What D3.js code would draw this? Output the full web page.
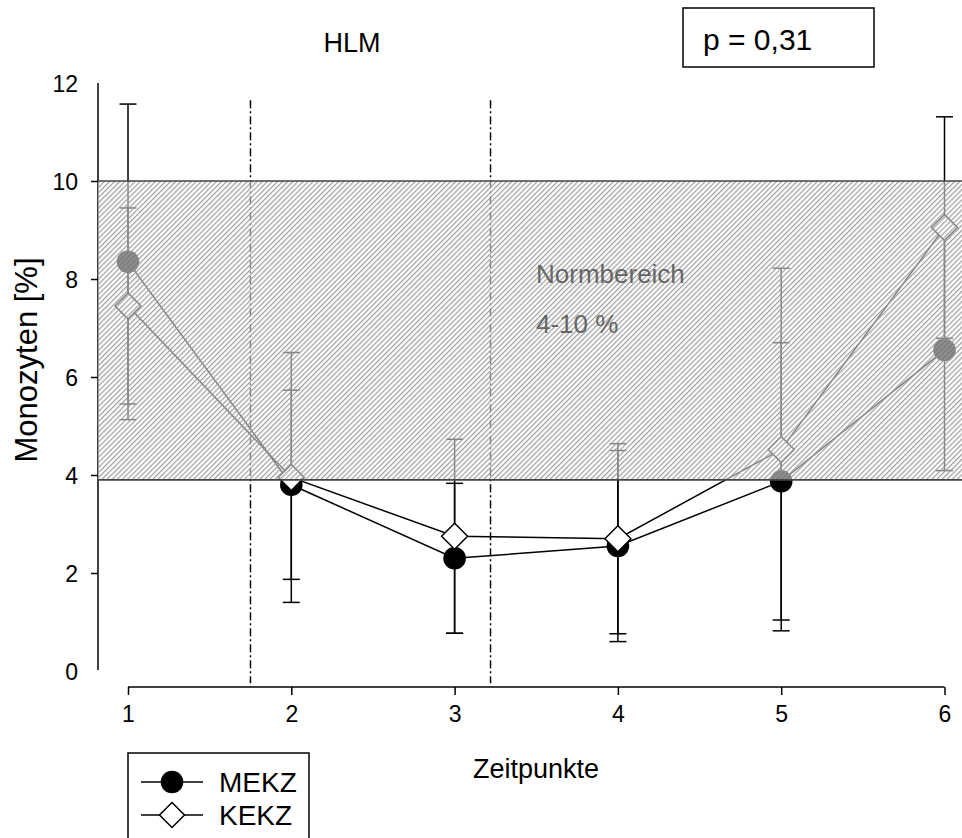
<!DOCTYPE html>
<html>
<head>
<meta charset="utf-8">
<script src="https://cdn.jsdelivr.net/npm/d3@7/dist/d3.min.js"></script>
<style>
  html, body { margin: 0; padding: 0; background: #fff; }
  svg { display: block; font-family: "Liberation Sans", Arial, sans-serif; }
</style>
</head>
<body>
<svg id="chart" width="962" height="838"></svg>
<script>
// Time points and monocyte percentages per group
const timepoints = [1, 2, 3, 4, 5, 6];
const mekzMean = [8.35, 3.80, 2.30, 2.55, 3.87, 6.55];
const mekzErr  = [3.22, 1.93, 1.53, 1.95, 2.83, 2.46];
const kekzMean = [7.45, 3.95, 2.75, 2.70, 4.52, 9.05];
const kekzErr  = [2.00, 2.55, 1.98, 1.94, 3.70, 2.26];
const yTicks = [0, 2, 4, 6, 8, 10, 12];
const normRange = [3.9, 10];
const phaseBreaks = [1.75, 3.22];
const seriesNames = ["MEKZ", "KEKZ"];

const FONT = "Liberation Sans, Arial, sans-serif";
const svg = d3.select("#chart");
const x = d3.scaleLinear().domain([1, 6]).range([128, 944.5]);
const y = d3.scaleLinear().domain([0, 12]).range([671, 83]);

// Hatch pattern for the normal range band
const defs = svg.append("defs");
const pat = defs.append("pattern")
  .attr("id", "hatch")
  .attr("patternUnits", "userSpaceOnUse")
  .attr("width", 3.6).attr("height", 3.6)
  .attr("patternTransform", "rotate(45)");
pat.append("rect").attr("width", 3.6).attr("height", 3.6).attr("fill", "rgba(255,255,255,0.5)");
pat.append("line").attr("x1", 0.6).attr("y1", 0).attr("x2", 0.6).attr("y2", 3.6)
  .attr("stroke", "#969696").attr("stroke-width", 1.1);

// Axes
const yAxis = d3.axisLeft(y).tickValues(yTicks).tickSize(7).tickSizeOuter(0).tickPadding(13);
const gy = svg.append("g").attr("transform", "translate(98,0)").call(yAxis);
gy.select(".domain").attr("stroke", "#000").attr("stroke-width", 1.5).attr("d", `M0,${y(12)}V${y(0) - 1}`);
gy.selectAll(".tick line").attr("stroke", "#000").attr("stroke-width", 1.5)
  .filter(d => d === 0 || d === 12).remove();
gy.selectAll(".tick text").attr("font-size", 23).attr("fill", "#000")
  .attr("font-family", FONT).attr("dy", "0.36em");

const xAxis = d3.axisBottom(x).tickValues(timepoints).tickFormat(d3.format("d"))
  .tickSize(8).tickSizeOuter(0).tickPadding(11);
const gx = svg.append("g").attr("transform", "translate(0,687)").call(xAxis);
gx.select(".domain").attr("stroke", "#000").attr("stroke-width", 1.5).attr("d", `M${x(1)},0H${x(6)}`);
gx.selectAll(".tick line").attr("stroke", "#000").attr("stroke-width", 1.5);
gx.selectAll(".tick text").attr("font-size", 23).attr("fill", "#000")
  .attr("font-family", FONT);

// Phase separators
svg.selectAll(".phase").data(phaseBreaks).enter().append("line")
  .attr("x1", d => x(d)).attr("x2", d => x(d))
  .attr("y1", y(11.65)).attr("y2", y(-0.25))
  .attr("stroke", "#000").attr("stroke-width", 1.5)
  .attr("stroke-dasharray", "8,3,2,3");

// Data series
const series = [
  { name: seriesNames[0], mean: mekzMean, err: mekzErr, shape: "circle" },
  { name: seriesNames[1], mean: kekzMean, err: kekzErr, shape: "diamond" }
];
const line = d3.line().x((d, i) => x(timepoints[i])).y(d => y(d));
const capW = 8.5;

series.forEach(s => {
  const g = svg.append("g");
  s.mean.forEach((m, i) => {
    const cx = x(timepoints[i]);
    const lo = y(m - s.err[i]), hi = y(m + s.err[i]);
    g.append("line").attr("x1", cx).attr("x2", cx).attr("y1", hi).attr("y2", lo)
      .attr("stroke", "#000").attr("stroke-width", 1.5);
    [hi, lo].forEach(v => g.append("line").attr("x1", cx - capW).attr("x2", cx + capW)
      .attr("y1", v).attr("y2", v).attr("stroke", "#000").attr("stroke-width", 1.5));
  });
});

series.forEach(s => {
  const g = svg.append("g");
  g.append("path").datum(s.mean).attr("d", line)
    .attr("fill", "none").attr("stroke", "#000").attr("stroke-width", 1.5);
  s.mean.forEach((m, i) => {
    const cx = x(timepoints[i]), cy = y(m);
    if (s.shape === "circle") {
      g.append("circle").attr("cx", cx).attr("cy", cy).attr("r", 11.3).attr("fill", "#000");
    } else {
      const r = 13;
      g.append("path").attr("d", `M${cx},${cy - r}L${cx + r},${cy}L${cx},${cy + r}L${cx - r},${cy}Z`)
        .attr("fill", "#fff").attr("stroke", "#000").attr("stroke-width", 1.5);
    }
  });
});

// Normal range band drawn over the data
const bandTop = y(normRange[1]), bandBot = y(normRange[0]);
svg.append("rect").attr("x", 98).attr("y", bandTop).attr("width", 962 - 98).attr("height", bandBot - bandTop)
  .attr("fill", "url(#hatch)");
[bandTop, bandBot].forEach(v => svg.append("line").attr("x1", 98).attr("x2", 962)
  .attr("y1", v).attr("y2", v).attr("stroke", "#444").attr("stroke-width", 1.6));

svg.append("text").attr("x", 536).attr("y", 283).attr("font-size", 26).attr("fill", "#666")
  .attr("font-family", FONT).text("Normbereich");
svg.append("text").attr("x", 536).attr("y", 333).attr("font-size", 26).attr("fill", "#666")
  .attr("font-family", FONT).text("4-10 %");

// Titles and labels
svg.append("text").attr("x", 352).attr("y", 52).attr("text-anchor", "middle")
  .attr("font-size", 27).attr("font-family", FONT).text("HLM");
svg.append("rect").attr("x", 683).attr("y", 8).attr("width", 191).attr("height", 59)
  .attr("fill", "#fff").attr("stroke", "#000").attr("stroke-width", 1.5);
svg.append("text").attr("x", 703).attr("y", 50).attr("font-size", 30)
  .attr("font-family", FONT).text("p = 0,31");

svg.append("text").attr("x", 536).attr("y", 778).attr("text-anchor", "middle")
  .attr("font-size", 27).attr("font-family", FONT).text("Zeitpunkte");
svg.append("text").attr("transform", "translate(37,360) rotate(-90)").attr("text-anchor", "middle")
  .attr("font-size", 31).attr("font-family", FONT).text("Monozyten [%]");

// Legend
const lg = svg.append("g");
lg.append("rect").attr("x", 128).attr("y", 753).attr("width", 181).attr("height", 100)
  .attr("fill", "#fff").attr("stroke", "#000").attr("stroke-width", 1.5);
series.forEach((s, i) => {
  const ly = 782 + i * 33;
  lg.append("line").attr("x1", 141).attr("x2", 203).attr("y1", ly).attr("y2", ly)
    .attr("stroke", "#000").attr("stroke-width", 1.5);
  if (s.shape === "circle") {
    lg.append("circle").attr("cx", 172).attr("cy", ly).attr("r", 11.3).attr("fill", "#000");
  } else {
    const r = 12.5;
    lg.append("path").attr("d", `M172,${ly - r}L${172 + r},${ly}L172,${ly + r}L${172 - r},${ly}Z`)
      .attr("fill", "#fff").attr("stroke", "#000").attr("stroke-width", 1.5);
  }
  lg.append("text").attr("x", 219).attr("y", ly + 10).attr("font-size", 28)
    .attr("font-family", FONT).text(s.name);
});
</script>
</body>
</html>
